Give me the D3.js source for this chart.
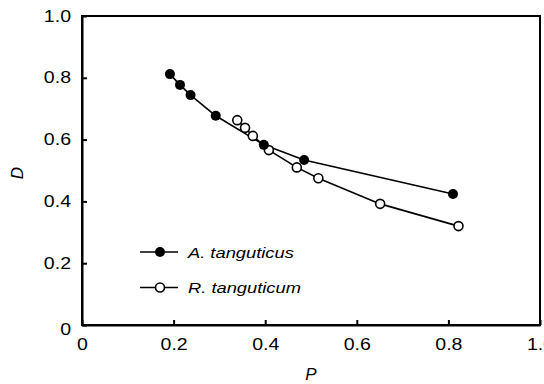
<!DOCTYPE html>
<html>
<head>
<meta charset="utf-8">
<script src="https://cdn.jsdelivr.net/npm/d3@7"></script>
<style>
  body { margin: 0; background: #fff; }
  svg { display: block; font-family: "Liberation Sans", Arial, sans-serif; }
  .axis path, .axis line { stroke: #000; stroke-width: 2; }
  .line { fill: none; stroke: #000; stroke-width: 1.6; }
</style>
</head>
<body>
<div id="chart"></div>
<script>
// A. tanguticus (filled)
const aP = [0.192, 0.214, 0.237, 0.292, 0.397, 0.485, 0.810];
const aD = [0.812, 0.777, 0.744, 0.677, 0.583, 0.534, 0.424];
// R. tanguticum (open)
const rP = [0.339, 0.356, 0.373, 0.408, 0.469, 0.516, 0.651, 0.822];
const rD = [0.663, 0.638, 0.612, 0.566, 0.510, 0.475, 0.392, 0.320];

const ticks = [0, 0.2, 0.4, 0.6, 0.8, 1.0];
const seriesNames = ['A. tanguticus', 'R. tanguticum'];

const width = 544, height = 384;
const margin = {top: 16, right: 4, bottom: 59, left: 82};
const w = width - margin.left - margin.right;
const h = height - margin.top - margin.bottom;

const svg = d3.select('#chart').append('svg')
  .attr('width', width)
  .attr('height', height);

const x = d3.scaleLinear().domain([0, 1]).range([margin.left, margin.left + w]);
const y = d3.scaleLinear().domain([0, 1]).range([margin.top + h, margin.top]);

const fmt = d => d === 0 ? '0' : d3.format('.1f')(d);

// stretch text a little wider, like the scanned figure
function widen(sel, k) {
  sel.each(function() {
    const len = this.getComputedTextLength();
    d3.select(this).attr('textLength', len * k).attr('lengthAdjust', 'spacingAndGlyphs');
  });
}

// frame
svg.append('rect')
  .attr('x', x(0)).attr('y', y(1))
  .attr('width', x(1) - x(0)).attr('height', y(0) - y(1))
  .attr('fill', 'none').attr('stroke', '#000').attr('stroke-width', 2);

const xAxis = svg.append('g')
  .attr('class', 'axis')
  .attr('transform', `translate(0, ${y(0)})`)
  .call(d3.axisBottom(x).tickValues(ticks).tickFormat(fmt).tickSizeInner(-5).tickSizeOuter(0).tickPadding(14));
xAxis.selectAll('text').attr('font-size', 16).attr('fill', '#000').call(widen, 1.22);

const yAxis = svg.append('g')
  .attr('class', 'axis')
  .attr('transform', `translate(${x(0)}, 0)`)
  .call(d3.axisLeft(y).tickValues(ticks).tickFormat(fmt).tickSizeInner(-5).tickSizeOuter(0).tickPadding(11));
yAxis.selectAll('text').attr('font-size', 16).attr('fill', '#000').call(widen, 1.22);
yAxis.selectAll('.tick').filter(d => d === 0).select('text').attr('dy', '0.6em');

// axis titles
svg.append('text')
  .attr('x', 311).attr('y', 380)
  .attr('text-anchor', 'middle')
  .attr('font-size', 17).attr('font-style', 'italic')
  .text('P');

svg.append('text')
  .attr('transform', 'translate(23, 173) rotate(-90)')
  .attr('text-anchor', 'middle')
  .attr('font-size', 17).attr('font-style', 'italic')
  .text('D');

const line = d3.line()
  .x(d => x(d[0]))
  .y(d => y(d[1]));

const aData = aP.map((p, i) => [p, aD[i]]);
const rData = rP.map((p, i) => [p, rD[i]]);

svg.append('path').datum(rData).attr('class', 'line').attr('d', line);
svg.append('path').datum(aData).attr('class', 'line').attr('d', line);

svg.selectAll('.open').data(rData).enter().append('circle')
  .attr('class', 'open')
  .attr('cx', d => x(d[0])).attr('cy', d => y(d[1]))
  .attr('r', 4.5)
  .attr('fill', '#fff').attr('stroke', '#000').attr('stroke-width', 1.6);

svg.selectAll('.filled').data(aData).enter().append('circle')
  .attr('class', 'filled')
  .attr('cx', d => x(d[0])).attr('cy', d => y(d[1]))
  .attr('r', 5)
  .attr('fill', '#000');

// legend
const legend = svg.append('g').attr('transform', 'translate(140, 252)');
seriesNames.forEach((name, i) => {
  const g = legend.append('g').attr('transform', `translate(0, ${i * 35.5})`);
  g.append('line').attr('x1', 0).attr('x2', 38).attr('y1', 0).attr('y2', 0)
    .attr('stroke', '#000').attr('stroke-width', 1.6);
  if (i === 0) {
    g.append('circle').attr('cx', 20).attr('cy', 0).attr('r', 5).attr('fill', '#000');
  } else {
    g.append('circle').attr('cx', 20).attr('cy', 0).attr('r', 4.5)
      .attr('fill', '#fff').attr('stroke', '#000').attr('stroke-width', 1.6);
  }
  g.append('text')
    .attr('x', 48).attr('y', 5.5)
    .attr('font-size', 15).attr('font-style', 'italic')
    .text(name)
    .call(widen, 1.22);
});
</script>
</body>
</html>
